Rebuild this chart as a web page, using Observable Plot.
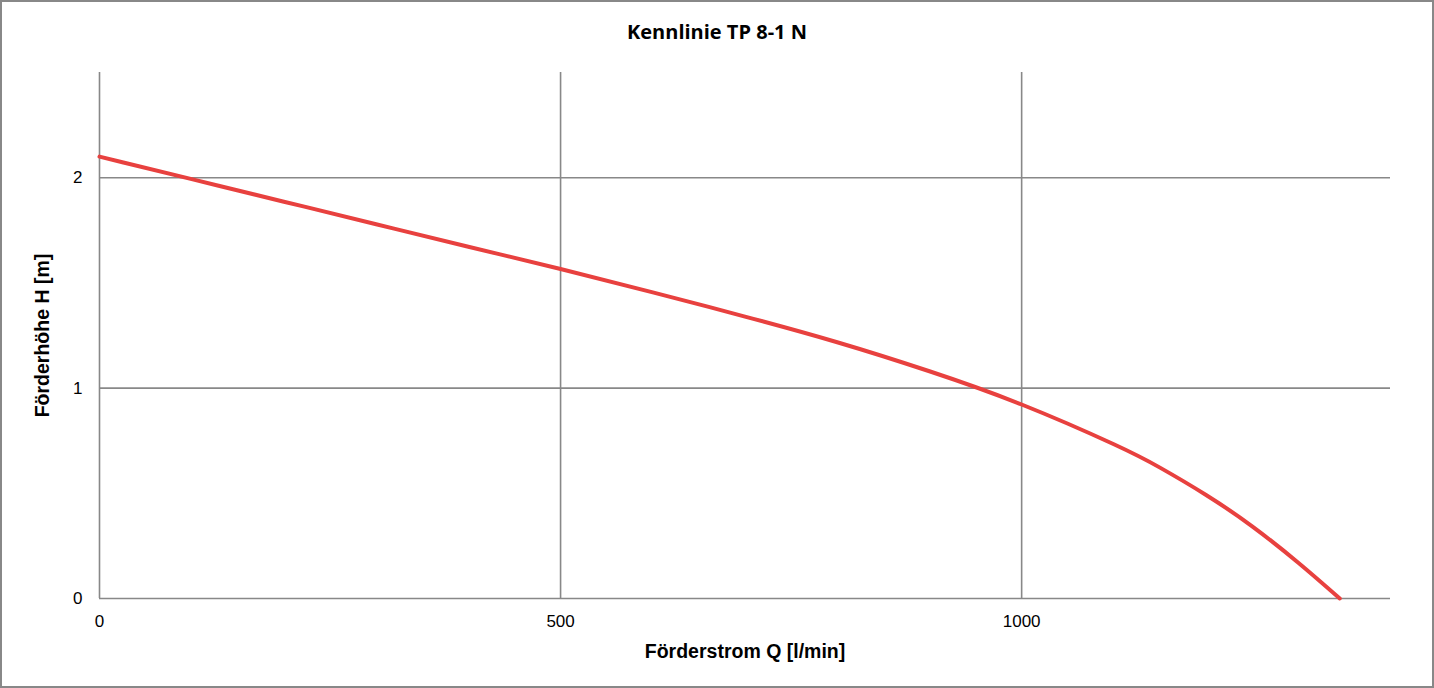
<!DOCTYPE html>
<html>
<head>
<meta charset="utf-8">
<script src="https://cdn.jsdelivr.net/npm/d3@7"></script>
<script src="https://cdn.jsdelivr.net/npm/@observablehq/plot@0.6"></script>
<style>
  html, body { margin: 0; padding: 0; background: #fff; }
  #wrap { width: 1434px; height: 688px; box-sizing: border-box; border: 2px solid #888; background: #fff; }
  #title { height: 60px; line-height: 60px; text-align: center; font-family: "Open Sans", sans-serif; font-weight: 700; font-size: 20px; color: #000; }
  svg { display: block; font-family: "Liberation Sans", Arial, sans-serif; }
</style>
</head>
<body>
<div id="wrap">
  <div id="title"></div>
  <div id="chart"></div>
</div>
<script>
const title = "Kennlinie TP 8-1 N";
const xLabel = "Förderstrom Q [l/min]";
const yLabel = "Förderhöhe H [m]";
const flow = [0, 100, 200, 300, 400, 500, 600, 700, 800, 900, 1000, 1100, 1150, 1200, 1250, 1300, 1345];
const head = [2.10, 1.993, 1.886, 1.779, 1.672, 1.566, 1.455, 1.34, 1.218, 1.08, 0.922, 0.733, 0.622, 0.492, 0.343, 0.17, 0.0];
const xTicks = [0, 500, 1000];
const yTicks = [0, 1, 2];

document.getElementById("title").textContent = title;
const data = flow.map((q, i) => ({q, h: head[i]}));

const chart = Plot.plot({
  width: 1430,
  height: 624,
  marginTop: 10,
  marginBottom: 88,
  marginLeft: 97,
  marginRight: 42,
  x: {domain: [0, 1400]},
  y: {domain: [0, 2.5]},
  marks: [
    Plot.gridY(yTicks, {stroke: "#888", strokeOpacity: 1, strokeWidth: 1.6}),
    Plot.gridX(xTicks, {stroke: "#888", strokeOpacity: 1, strokeWidth: 1.6}),
    Plot.axisX(xTicks, {tickSize: 0, tickPadding: 16, fontSize: 17, label: null, fill: "#000", tickFormat: d => String(d)}),
    Plot.axisY(yTicks, {tickSize: 0, tickPadding: 17, fontSize: 17, label: null, fill: "#000", tickFormat: d => String(d)}),
    Plot.text([xLabel], {frameAnchor: "bottom", dy: 59, text: d => d, fontSize: 19.5, fontWeight: "bold", fill: "#000"}),
    Plot.text([yLabel], {frameAnchor: "left", dx: -57, rotate: -90, textAnchor: "middle", lineAnchor: "middle", text: d => d, fontSize: 19.5, fontWeight: "bold", fill: "#000"}),
    Plot.line(data, {x: "q", y: "h", stroke: "#e8413f", strokeWidth: 4, curve: "natural"})
  ]
});
document.getElementById("chart").appendChild(chart);
</script>
</body>
</html>
